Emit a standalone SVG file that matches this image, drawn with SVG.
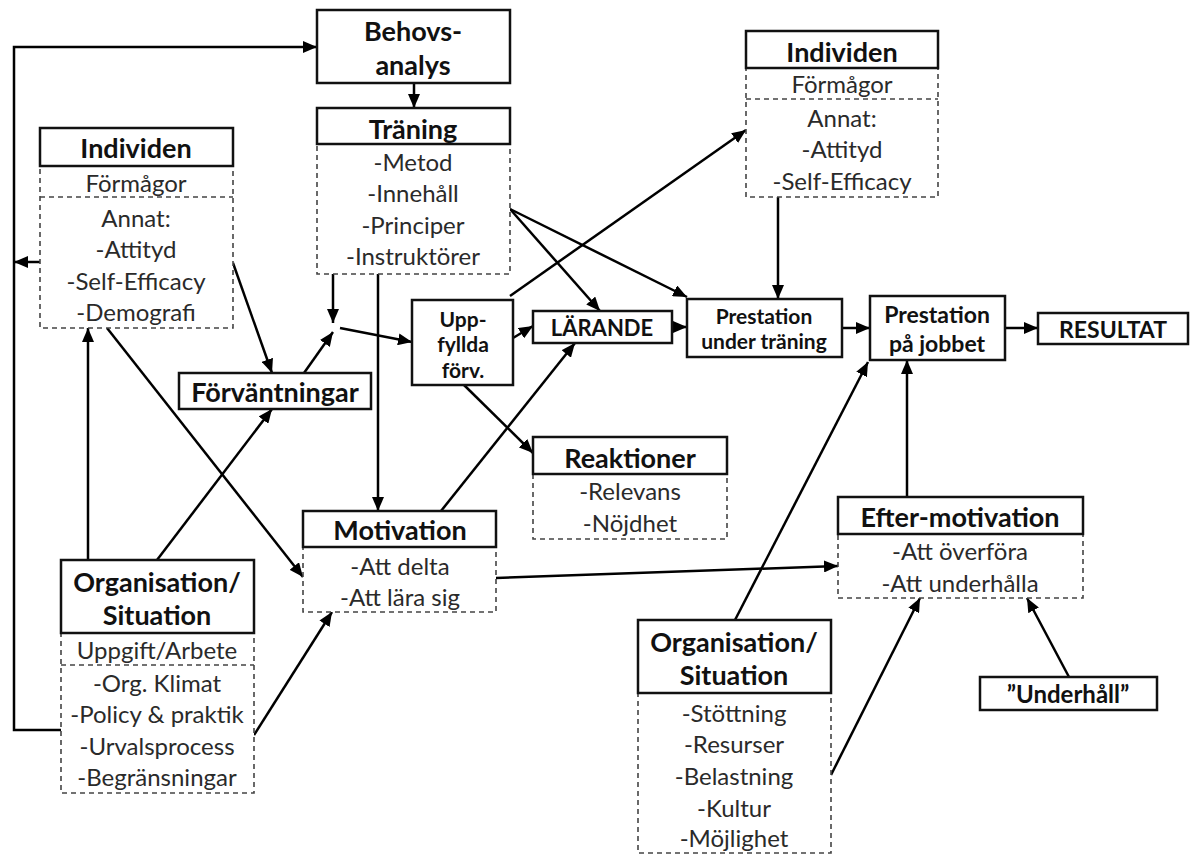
<svg xmlns="http://www.w3.org/2000/svg" width="1193" height="856" viewBox="0 0 1193 856">
<defs>
<marker id="ah" viewBox="0 0 14 12" refX="14" refY="6" markerWidth="14" markerHeight="12" markerUnits="userSpaceOnUse" orient="auto">
<path d="M0,0 L14,6 L0,12 Z" fill="#000"/>
</marker>
<style>
.solid{fill:#fff;stroke:#111;stroke-width:2.5}
.dash{fill:#fff;stroke:#444;stroke-width:1.6;stroke-dasharray:5 4}
.dl{fill:none;stroke:#444;stroke-width:1.6;stroke-dasharray:5 4}
.h{font-family:Lato,"Liberation Sans",sans-serif;font-weight:bold;font-size:27px;fill:#111;text-anchor:middle}
.hs{font-family:Lato,"Liberation Sans",sans-serif;font-weight:bold;font-size:22px;fill:#111;text-anchor:middle}
.b{font-family:Lato,"Liberation Sans",sans-serif;font-size:24px;fill:#2a2a2a;text-anchor:middle}
.c{fill:none;stroke:#000;stroke-width:2.5;marker-end:url(#ah)}
</style>
</defs>
<rect width="1193" height="856" fill="#fff"/>

<g id="connectors">
<polyline class="c" points="61,730 14,730 14,47 317,47"/>
<line class="c" x1="40" y1="262" x2="14" y2="262"/>
<line class="c" x1="414" y1="83" x2="414" y2="108"/>
<line class="c" x1="333" y1="274" x2="333" y2="323"/>
<line class="c" x1="304" y1="373" x2="333" y2="332"/>
<line class="c" x1="340" y1="328" x2="412" y2="342"/>
<line class="c" x1="378" y1="274" x2="378" y2="511"/>
<line class="c" x1="233" y1="263" x2="272" y2="373"/>
<line class="c" x1="107" y1="328" x2="303" y2="577"/>
<line class="c" x1="88" y1="560" x2="88" y2="328"/>
<line class="c" x1="157" y1="560" x2="272" y2="409"/>
<line class="c" x1="254" y1="735" x2="332" y2="612"/>
<line class="c" x1="441" y1="511" x2="575" y2="343"/>
<line class="c" x1="513" y1="338" x2="533" y2="326"/>
<line class="c" x1="510" y1="296" x2="746" y2="130"/>
<line class="c" x1="510" y1="209" x2="600" y2="311"/>
<line class="c" x1="510" y1="209" x2="687" y2="297"/>
<line class="c" x1="464" y1="385" x2="533" y2="453"/>
<line class="c" x1="672" y1="327" x2="687" y2="327"/>
<line class="c" x1="778" y1="197" x2="778" y2="299"/>
<line class="c" x1="842" y1="328" x2="870" y2="328"/>
<line class="c" x1="1005" y1="328" x2="1038" y2="328"/>
<line class="c" x1="496" y1="578" x2="838" y2="566"/>
<line class="c" x1="907" y1="497" x2="907" y2="360"/>
<line class="c" x1="735" y1="620" x2="868" y2="362"/>
<line class="c" x1="831" y1="775" x2="920" y2="598"/>
<line class="c" x1="1069" y1="677" x2="1027" y2="598"/>
</g>

<g id="behovsanalys">
<rect class="solid" x="317" y="10" width="193" height="73"/>
<text class="h" x="413" y="41">Behovs-</text>
<text class="h" x="413" y="75">analys</text>
</g>

<g id="traning">
<rect class="dash" x="317" y="144" width="193" height="130"/>
<rect class="solid" x="317" y="108" width="193" height="36"/>
<text class="h" x="413" y="139">Träning</text>
<text class="b" x="413" y="171">-Metod</text>
<text class="b" x="413" y="202">-Innehåll</text>
<text class="b" x="413" y="234">-Principer</text>
<text class="b" x="413" y="265">-Instruktörer</text>
</g>

<g id="individen-left">
<rect class="dash" x="40" y="166" width="193" height="162"/>
<line class="dl" x1="40" y1="197" x2="233" y2="197"/>
<rect class="solid" x="40" y="128" width="193" height="38"/>
<text class="h" x="136" y="158">Individen</text>
<text class="b" x="136" y="192">Förmågor</text>
<text class="b" x="136" y="227">Annat:</text>
<text class="b" x="136" y="258">-Attityd</text>
<text class="b" x="136" y="290">-Self-Efficacy</text>
<text class="b" x="136" y="321">-Demografi</text>
</g>

<g id="individen-right">
<rect class="dash" x="746" y="68" width="192" height="129"/>
<line class="dl" x1="746" y1="99" x2="938" y2="99"/>
<rect class="solid" x="746" y="31" width="192" height="37"/>
<text class="h" x="842" y="62">Individen</text>
<text class="b" x="842" y="93">Förmågor</text>
<text class="b" x="842" y="127">Annat:</text>
<text class="b" x="842" y="158">-Attityd</text>
<text class="b" x="842" y="190">-Self-Efficacy</text>
</g>

<g id="forvantningar">
<rect class="solid" x="179" y="373" width="192" height="36"/>
<text class="h" x="275" y="402">Förväntningar</text>
</g>

<g id="uppfyllda">
<rect class="solid" x="412" y="300" width="101" height="85"/>
<text class="hs" x="463" y="327" style="font-size:21px">Upp-</text>
<text class="hs" x="463" y="352" style="font-size:21px">fyllda</text>
<text class="hs" x="463" y="378" style="font-size:21px">förv.</text>
</g>

<g id="larande">
<rect class="solid" x="533" y="311" width="139" height="32"/>
<text class="hs" x="602" y="336">LÄRANDE</text>
</g>

<g id="prestation-under-traning">
<rect class="solid" x="687" y="299" width="155" height="58"/>
<text class="hs" x="764" y="324" style="font-size:21px">Prestation</text>
<text class="hs" x="764" y="349" style="font-size:21px">under träning</text>
</g>

<g id="prestation-pa-jobbet">
<rect class="solid" x="870" y="296" width="135" height="64"/>
<text class="hs" x="937" y="323" style="font-size:23px">Prestation</text>
<text class="hs" x="937" y="352" style="font-size:23px">på jobbet</text>
</g>

<g id="resultat">
<rect class="solid" x="1038" y="313" width="150" height="31"/>
<text class="hs" x="1113" y="338" style="font-size:23px">RESULTAT</text>
</g>

<g id="reaktioner">
<rect class="dash" x="533" y="474" width="194" height="65"/>
<rect class="solid" x="533" y="437" width="194" height="37"/>
<text class="h" x="630" y="468">Reaktioner</text>
<text class="b" x="630" y="500">-Relevans</text>
<text class="b" x="630" y="532">-Nöjdhet</text>
</g>

<g id="motivation">
<rect class="dash" x="303" y="547" width="193" height="65"/>
<rect class="solid" x="303" y="511" width="193" height="36"/>
<text class="h" x="400" y="540">Motivation</text>
<text class="b" x="400" y="575">-Att delta</text>
<text class="b" x="400" y="606">-Att lära sig</text>
</g>

<g id="efter-motivation">
<rect class="dash" x="838" y="534" width="245" height="64"/>
<rect class="solid" x="838" y="497" width="245" height="37"/>
<text class="h" x="960" y="527">Efter-motivation</text>
<text class="b" x="960" y="560">-Att överföra</text>
<text class="b" x="960" y="592">-Att underhålla</text>
</g>

<g id="organisation-left">
<rect class="dash" x="61" y="633" width="193" height="160"/>
<line class="dl" x1="61" y1="665" x2="254" y2="665"/>
<rect class="solid" x="61" y="560" width="193" height="73"/>
<text class="h" x="157" y="592">Organisation/</text>
<text class="h" x="157" y="625">Situation</text>
<text class="b" x="157" y="659">Uppgift/Arbete</text>
<text class="b" x="157" y="692">-Org. Klimat</text>
<text class="b" x="157" y="723">-Policy &amp; praktik</text>
<text class="b" x="157" y="755">-Urvalsprocess</text>
<text class="b" x="157" y="786">-Begränsningar</text>
</g>

<g id="organisation-right">
<rect class="dash" x="638" y="693" width="193" height="160"/>
<rect class="solid" x="638" y="620" width="193" height="73"/>
<text class="h" x="734" y="652">Organisation/</text>
<text class="h" x="734" y="685">Situation</text>
<text class="b" x="734" y="722">-Stöttning</text>
<text class="b" x="734" y="753">-Resurser</text>
<text class="b" x="734" y="785">-Belastning</text>
<text class="b" x="734" y="817">-Kultur</text>
<text class="b" x="734" y="847">-Möjlighet</text>
</g>

<g id="underhall">
<rect class="solid" x="980" y="677" width="177" height="33"/>
<text class="h" x="1068" y="703" style="font-size:24px">”Underhåll”</text>
</g>
</svg>
